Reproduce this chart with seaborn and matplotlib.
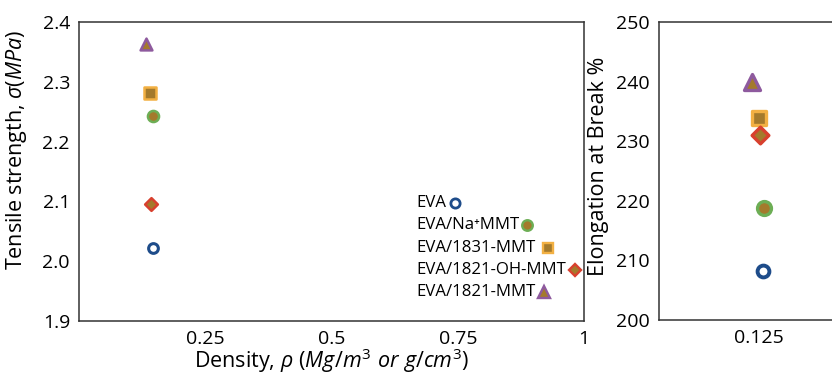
import matplotlib
matplotlib.use("Agg")
import matplotlib.pyplot as plt
import matplotlib.transforms as mtransforms
import seaborn as sns
import pandas as pd
from matplotlib.ticker import MultipleLocator, FixedLocator

sns.set_theme(style="white")
plt.rcParams['font.family'] = ['Open Sans', 'DejaVu Sans']
plt.rcParams['mathtext.fontset'] = 'custom'
plt.rcParams['mathtext.rm'] = 'Open Sans'
plt.rcParams['mathtext.it'] = 'Open Sans:italic'
for k in ("text.color", "axes.labelcolor", "xtick.color", "ytick.color"):
    plt.rcParams[k] = "black"

# ---- data ----
materials = ["EVA", "EVA/Na⁺MMT", "EVA/1831-MMT", "EVA/1821-OH-MMT", "EVA/1821-MMT"]
density = [0.146, 0.147, 0.141, 0.142, 0.133]
tensile = [2.022, 2.243, 2.281, 2.095, 2.364]
elong_x = [0.1369, 0.1372, 0.1336, 0.1342, 0.1278]
elongation = [208.3, 218.8, 233.9, 231.1, 240.0]

markers = ["o", "o", "s", "D", "^"]
faces = ["white", "#A47A2C", "#A47A2C", "#A47A2C", "#A47A2C"]
edges = ["#1E4C8A", "#6DAE55", "#F2B043", "#D8402E", "#8E5A9E"]
left_sizes = [7, 8, 8, 6.5, 8.5]
right_sizes = [8.5, 10, 10.5, 8.5, 11.5]

df = pd.DataFrame({"material": materials, "density": density, "tensile": tensile,
                   "ex": elong_x, "elongation": elongation})

fig = plt.figure(figsize=(8.32, 3.75), dpi=100)
W, H = 832, 375
ax1 = fig.add_axes([79 / W, 1 - 321 / H, (584 - 79) / W, (321 - 22) / H])
ax2 = fig.add_axes([659 / W, 1 - 320 / H, (839 - 659) / W, (320 - 22) / H])

for i, row in df.iterrows():
    sns.scatterplot(x=[row["density"]], y=[row["tensile"]], ax=ax1, marker=markers[i],
                    s=left_sizes[i] ** 2, facecolor=faces[i], edgecolor=edges[i],
                    linewidth=2.2 if i == 0 else 1.8, zorder=3, legend=False)
    sns.scatterplot(x=[row["ex"]], y=[row["elongation"]], ax=ax2, marker=markers[i],
                    s=right_sizes[i] ** 2, facecolor=faces[i], edgecolor=edges[i],
                    linewidth=2.8 if i == 0 else 2.4, zorder=3, legend=False)

tick_fs = 14
lab_fs = 15.5
spine_c = "#333333"
for ax in (ax1, ax2):
    for s in ax.spines.values():
        s.set_color(spine_c)
        s.set_linewidth(1.1)
    ax.tick_params(which="both", direction="inout", color=spine_c, labelsize=tick_fs,
                   labelcolor="black", pad=4)
    ax.tick_params(which="major", length=5, width=1)
    ax.tick_params(which="minor", length=4, width=1)
    ax.grid(False)

ax1.set_xlim(0, 1)
ax1.set_ylim(1.9, 2.4)
ax1.xaxis.set_major_locator(FixedLocator([0.25, 0.5, 0.75, 1.0]))
ax1.xaxis.set_minor_locator(FixedLocator([0.125, 0.375, 0.625, 0.875]))
ax1.set_xticklabels(["0.25", "0.5", "0.75", "1"])
ax1.set_yticks([1.9, 2.0, 2.1, 2.2, 2.3, 2.4])
ax1.yaxis.set_minor_locator(MultipleLocator(0.05))
ax1.set_yticklabels(["1.9", "2.0", "2.1", "2.2", "2.3", "2.4"])
ax1.set_xlabel(r"Density, $\mathit{ρ\ (Mg/m^3\ or\ g/cm^3)}$", fontsize=lab_fs, labelpad=-1)
ax1.set_ylabel(r"Tensile strength, $\mathit{σ(MPa)}$", fontsize=lab_fs)
ax1.yaxis.set_label_coords((29 - 79) / (584 - 79), (321 - 150) / 299)

ax2.set_xlim(0.05, 0.2)
ax2.set_ylim(200, 250)
ax2.xaxis.set_major_locator(FixedLocator([0.125]))
ax2.set_xticklabels(["0.125"])
ax2.yaxis.set_major_locator(MultipleLocator(10))
ax2.yaxis.set_minor_locator(MultipleLocator(5))
ax2.spines["right"].set_visible(False)
ax2.set_ylabel("Elongation at Break %", fontsize=lab_fs)
ax2.yaxis.set_label_coords((609 - 659) / (839 - 659), (320 - 166) / 298)
for lbl in ax2.get_xticklabels():
    lbl.set_transform(lbl.get_transform() +
                      mtransforms.ScaledTranslation(10 / 100, 0, fig.dpi_scale_trans))

# custom legend: text with its marker right after it
leg_y = [203, 225, 248, 270, 292]
leg_mx = [455, 527, 548, 575, 544]
for i, name in enumerate(materials):
    fig.text(416 / W, 1 - leg_y[i] / H, name, fontsize=12.1, ha="left", va="center")
    ax1.plot([leg_mx[i]], [H - leg_y[i]], marker=markers[i], ms=left_sizes[i] * 0.95,
             mfc=faces[i], mec=edges[i], mew=2.0 if i == 0 else 1.7,
             transform=None, clip_on=False, zorder=4)

fig.savefig("out.png", dpi=100)
